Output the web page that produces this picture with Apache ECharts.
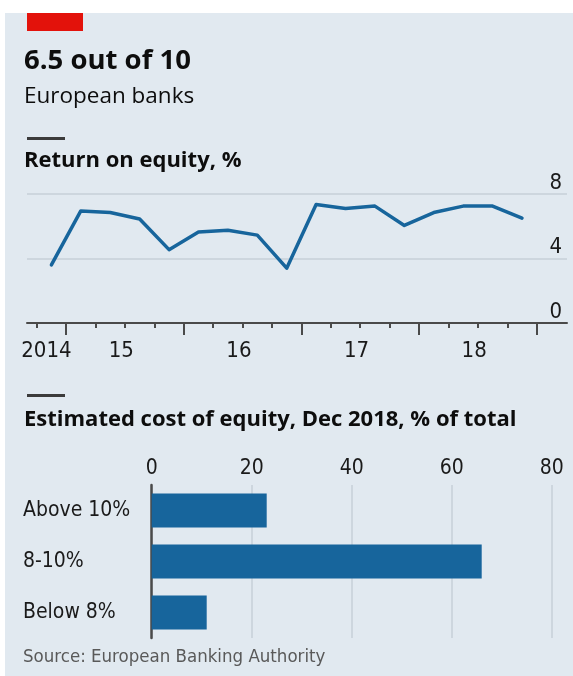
<!DOCTYPE html>
<html>
<head>
<meta charset="utf-8">
<title>6.5 out of 10</title>
<script src="https://cdn.jsdelivr.net/npm/echarts@6/dist/echarts.min.js"></script>
<style>
html, body { margin: 0; padding: 0; background: #fff; }
#chart { width: 573px; height: 676px; }
</style>
</head>
<body>
<div id="chart"></div>
<script>

// return on equity, quarterly, Q4 2014 - Q4 2018
var quarters = ['2014Q4',
    '2015Q1', '2015Q2', '2015Q3', '2015Q4',
    '2016Q1', '2016Q2', '2016Q3', '2016Q4',
    '2017Q1', '2017Q2', '2017Q3', '2017Q4',
    '2018Q1', '2018Q2', '2018Q3', '2018Q4'];
var roe = [3.6,
    6.95, 6.85, 6.45, 4.55,
    5.65, 5.75, 5.45, 3.4,
    7.35, 7.1, 7.25, 6.05,
    6.85, 7.25, 7.25, 6.5];
var yearLabels = ['2014', '', '15', '', '', '', '16', '', '', '', '17', '', '', '', '18', '', ''];

// estimated cost of equity, Dec 2018
var costCats = ['Above 10%', '8-10%', 'Below 8%'];
var costShare = [23, 66, 11];

var narrow = "'Liberation Sans Narrow', 'DejaVu Sans Condensed', sans-serif";
var head = "'Open Sans', sans-serif";
var blue = '#17659c';

var chart = echarts.init(document.getElementById('chart'));
chart.setOption({
    animation: false,
    backgroundColor: '#e1e9f0',
    grid: [
        {left: 27, right: 6, top: 194, height: 129},      // gridlines + base line
        {left: 36.7, width: 500, top: 194, height: 129},  // quarters
        {left: 36.7, width: 500, top: 194, height: 129},  // year ticks
        {left: 151.7, right: 21.3, top: 485, height: 153} // bars
    ],
    xAxis: [
        {
            gridIndex: 0, type: 'value', min: 0, max: 1,
            axisLine: {show: true, lineStyle: {color: '#4a4a4a', width: 2}},
            axisTick: {show: false}, axisLabel: {show: false}, splitLine: {show: false}
        },
        {
            gridIndex: 1, type: 'category', data: quarters,
            axisLine: {show: false},
            axisTick: {show: true, length: 5, lineStyle: {color: '#4a4a4a', width: 2}},
            axisLabel: {
                interval: 0, margin: 17,
                formatter: function (v, i) {
                    if (!yearLabels[i]) return '';
                    return i === 0 ? '{a|' + yearLabels[i] + '}' : '{b|' + yearLabels[i] + '}';
                },
                rich: {
                    a: {fontFamily: narrow, fontSize: 22, color: '#1a1a1a', padding: [0, 10, 0, 0]},
                    b: {fontFamily: narrow, fontSize: 22, color: '#1a1a1a', padding: [0, 0, 0, 22]}
                }
            },
            splitLine: {show: false}
        },
        {
            gridIndex: 2, type: 'category', data: quarters,
            axisLine: {show: false},
            axisTick: {
                show: true, length: 12, lineStyle: {color: '#4a4a4a', width: 2},
                interval: function (i) { return i % 4 === 1; }
            },
            axisLabel: {show: false}, splitLine: {show: false}
        },
        {
            gridIndex: 3, type: 'value', position: 'top', min: 0, max: 80, interval: 20,
            axisLine: {show: false}, axisTick: {show: false},
            axisLabel: {margin: 6, fontFamily: narrow, fontSize: 21, color: '#1a1a1a'},
            splitLine: {lineStyle: {color: '#c6cfd8', width: 1.5}}
        }
    ],
    yAxis: [
        {
            gridIndex: 0, type: 'value', position: 'right', min: 0, max: 8, interval: 4,
            axisLine: {show: false}, axisTick: {show: false},
            axisLabel: {
                inside: true, align: 'right', verticalAlign: 'bottom', margin: 5,
                fontFamily: narrow, fontSize: 22, color: '#1a1a1a'
            },
            splitLine: {lineStyle: {color: '#c6cfd8', width: 1.5}}
        },
        {gridIndex: 1, type: 'value', min: 0, max: 8, show: false},
        {gridIndex: 2, type: 'value', min: 0, max: 8, show: false},
        {
            gridIndex: 3, type: 'category', data: costCats, inverse: true,
            axisLine: {show: true, lineStyle: {color: '#4a4a4a', width: 2.5}},
            axisTick: {show: false},
            axisLabel: {align: 'left', margin: 128.7, fontFamily: narrow, fontSize: 21, color: '#1a1a1a'}
        }
    ],
    series: [
        {
            name: 'Return on equity', type: 'line',
            xAxisIndex: 1, yAxisIndex: 1,
            data: roe, symbol: 'none',
            lineStyle: {color: blue, width: 3.5, join: 'round', cap: 'round'}
        },
        {
            name: 'Cost of equity', type: 'bar',
            xAxisIndex: 3, yAxisIndex: 3,
            data: costShare, barWidth: 34,
            itemStyle: {color: blue}
        }
    ],
    graphic: [
        {type: 'rect', shape: {x: 0, y: 0, width: 573, height: 13}, style: {fill: '#fff'}},
        {type: 'rect', shape: {x: 0, y: 0, width: 5, height: 676}, style: {fill: '#fff'}},
        {type: 'rect', shape: {x: 27, y: 13, width: 56, height: 18}, style: {fill: '#e3120b'}},
        {type: 'text', style: {x: 24, y: 61, text: '6.5 out of 10', font: 'bold 27.5px ' + head, fill: '#0d0d0d', verticalAlign: 'middle'}},
        {type: 'text', style: {x: 24, y: 97, text: 'European banks', font: '22.5px ' + head, fill: '#0d0d0d', verticalAlign: 'middle'}},
        {type: 'rect', shape: {x: 27, y: 137, width: 38, height: 3}, style: {fill: '#3b3b3b'}},
        {type: 'text', style: {x: 24, y: 161, text: 'Return on equity, %', font: 'bold 22px ' + head, fill: '#0d0d0d', verticalAlign: 'middle'}},
        {type: 'rect', shape: {x: 27, y: 394, width: 38, height: 3}, style: {fill: '#3b3b3b'}},
        {type: 'text', style: {x: 24, y: 420, text: 'Estimated cost of equity, Dec 2018, % of total', font: 'bold 22px ' + head, fill: '#0d0d0d', verticalAlign: 'middle'}},
        {type: 'text', style: {x: 23, y: 657, text: 'Source: European Banking Authority', font: '18.5px ' + narrow, fill: '#595959', verticalAlign: 'middle'}}
    ]
});

</script>
</body>
</html>
